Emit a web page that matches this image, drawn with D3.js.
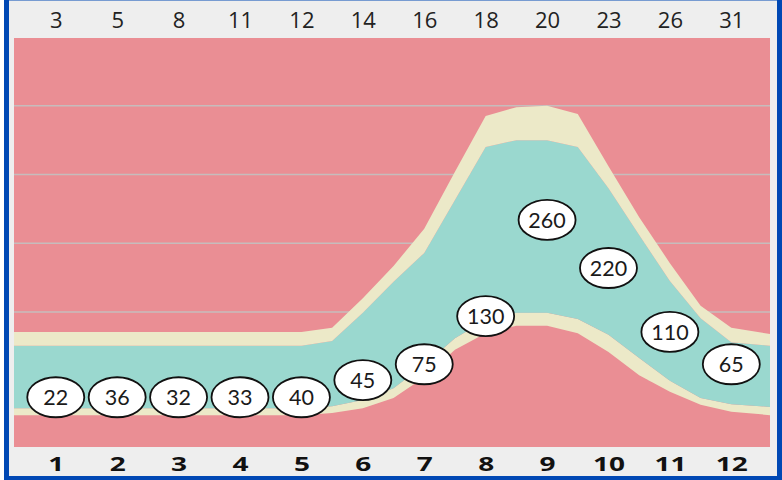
<!DOCTYPE html>
<html>
<head>
<meta charset="utf-8">
<script src="https://cdn.jsdelivr.net/npm/d3@7"></script>
<style>
  html, body { margin: 0; padding: 0; background: #ffffff; }
  svg { display: block; }
</style>
</head>
<body>
<div id="chart"></div>
<script>
// ---- data ----
const categories = [1, 2, 3, 4, 5, 6, 7, 8, 9, 10, 11, 12];
const topLabels = [3, 5, 8, 11, 12, 14, 16, 18, 20, 23, 26, 31];
const bubbleValues = [22, 36, 32, 33, 40, 45, 75, 130, 260, 220, 110, 65];
const bubbleLevel = [76, 76, 76, 76, 76, 101, 124, 194, 334, 264, 171, 124];

// band outline positions (half-category steps, with the two plot edges)
const bandX = [0.32, 1, 1.5, 2, 2.5, 3, 3.5, 4, 4.5, 5, 5.5, 6, 6.5, 7, 7.5, 8, 8.5, 9, 9.5, 10, 10.5, 11, 11.5, 12, 12.63];
const upperTop  = [171, 171, 171, 171, 171, 171, 171, 171, 171, 171, 177, 220, 267, 321, 404, 485, 498, 500, 488, 412, 338, 271, 209, 177, 168];
const upperBase = [151, 151, 151, 151, 151, 151, 151, 151, 151, 151, 158, 199, 244, 286, 363, 440, 450, 450, 440, 380, 312, 245, 191, 156, 151];
const lowerTop  = [60, 60, 60, 60, 60, 60, 60, 60, 60, 60, 63, 72, 89, 123, 162, 188, 199, 199, 190, 167, 133, 100, 75, 66, 62];
const lowerBase = [50, 50, 50, 50, 50, 50, 50, 50, 50, 50, 53, 60, 75, 105, 145, 169, 180, 180, 169, 142, 108, 84, 65, 55, 50];
const gridValues = [100, 200, 300, 400, 500];

// ---- layout ----
const W = 782, H = 480;
const plot = { left: 14, right: 770, top: 38, bottom: 447 };
const C = {
  pink: "#ea8e94", teal: "#9ad8cf", cream: "#ece9c8", grid: "#c6bcbc",
  frame: "#eeeeee", border: "#0048b4", text: "#222222"
};

const svg = d3.select("#chart").append("svg").attr("width", W).attr("height", H);

// frame
svg.append("rect").attr("x", 0).attr("y", 0).attr("width", W).attr("height", H).attr("fill", "#ffffff");
svg.append("rect").attr("x", 4).attr("y", -4).attr("width", 778).attr("height", 484)
  .attr("fill", C.frame);
svg.append("rect").attr("x", 6.5).attr("y", -2).attr("width", 773).attr("height", 480.5)
  .attr("fill", "none").attr("stroke", C.border).attr("stroke-width", 5);

const x = d3.scaleLinear().domain([0.32, 12.63]).range([plot.left, plot.right]);
const y = d3.scaleLinear().domain([0, 600]).range([449.5, 37]);

svg.append("defs").append("clipPath").attr("id", "plotclip")
  .append("rect").attr("x", plot.left).attr("y", plot.top)
  .attr("width", plot.right - plot.left).attr("height", plot.bottom - plot.top);

const g = svg.append("g").attr("clip-path", "url(#plotclip)");
g.append("rect").attr("x", plot.left).attr("y", plot.top)
  .attr("width", plot.right - plot.left).attr("height", plot.bottom - plot.top)
  .attr("fill", C.pink);

g.selectAll("line.grid").data(gridValues).join("line").attr("class", "grid")
  .attr("x1", plot.left).attr("x2", plot.right)
  .attr("y1", d => y(d)).attr("y2", d => y(d))
  .attr("stroke", C.grid).attr("stroke-width", 1.6);

const idx = d3.range(bandX.length);
function band(lo, hi) {
  return d3.area().x(i => x(bandX[i])).y0(i => lo ? y(lo[i]) : plot.bottom + 5).y1(i => y(hi[i]))(idx);
}
g.append("path").attr("d", band(null, lowerBase)).attr("fill", C.pink);
g.append("path").attr("d", band(lowerBase, lowerTop)).attr("fill", C.cream);
g.append("path").attr("d", band(lowerTop, upperBase)).attr("fill", C.teal);
g.append("path").attr("d", band(upperBase, upperTop)).attr("fill", C.cream);

// bubbles
const bub = svg.append("g").selectAll("g").data(categories).join("g")
  .attr("transform", (d, i) => `translate(${x(d)},${y(bubbleLevel[i])})`);
bub.append("ellipse").attr("rx", 28.5).attr("ry", 20).attr("fill", "#ffffff")
  .attr("stroke", "#111").attr("stroke-width", 1.8);
bub.append("text").attr("text-anchor", "middle").attr("dy", "0.36em")
  .attr("font-family", "Lato, 'Open Sans', sans-serif").attr("font-size", 21.5)
  .attr("fill", "#1a1a1a").text((d, i) => bubbleValues[i]);

// top axis
const topAxis = d3.axisTop(x).tickValues(categories).tickSize(0).tickPadding(0)
  .tickFormat((d, i) => topLabels[i]);
const ta = svg.append("g").attr("transform", "translate(0,28)").call(topAxis);
ta.select(".domain").remove();
ta.selectAll("text").attr("font-family", "'Open Sans', sans-serif").attr("font-size", 22)
  .attr("fill", C.text).attr("dy", 0);

// bottom axis
const bottomAxis = d3.axisBottom(x).tickValues(categories).tickSize(0).tickPadding(0)
  .tickFormat(d => d);
const ba = svg.append("g").attr("transform", "translate(0,471)").call(bottomAxis);
ba.select(".domain").remove();
ba.selectAll("text").attr("font-family", "'Open Sans', sans-serif").attr("font-weight", "bold")
  .attr("font-size", 20).attr("fill", "#111").attr("dy", 0)
  .attr("transform", "scale(1.4,1)");
</script>
</body>
</html>
